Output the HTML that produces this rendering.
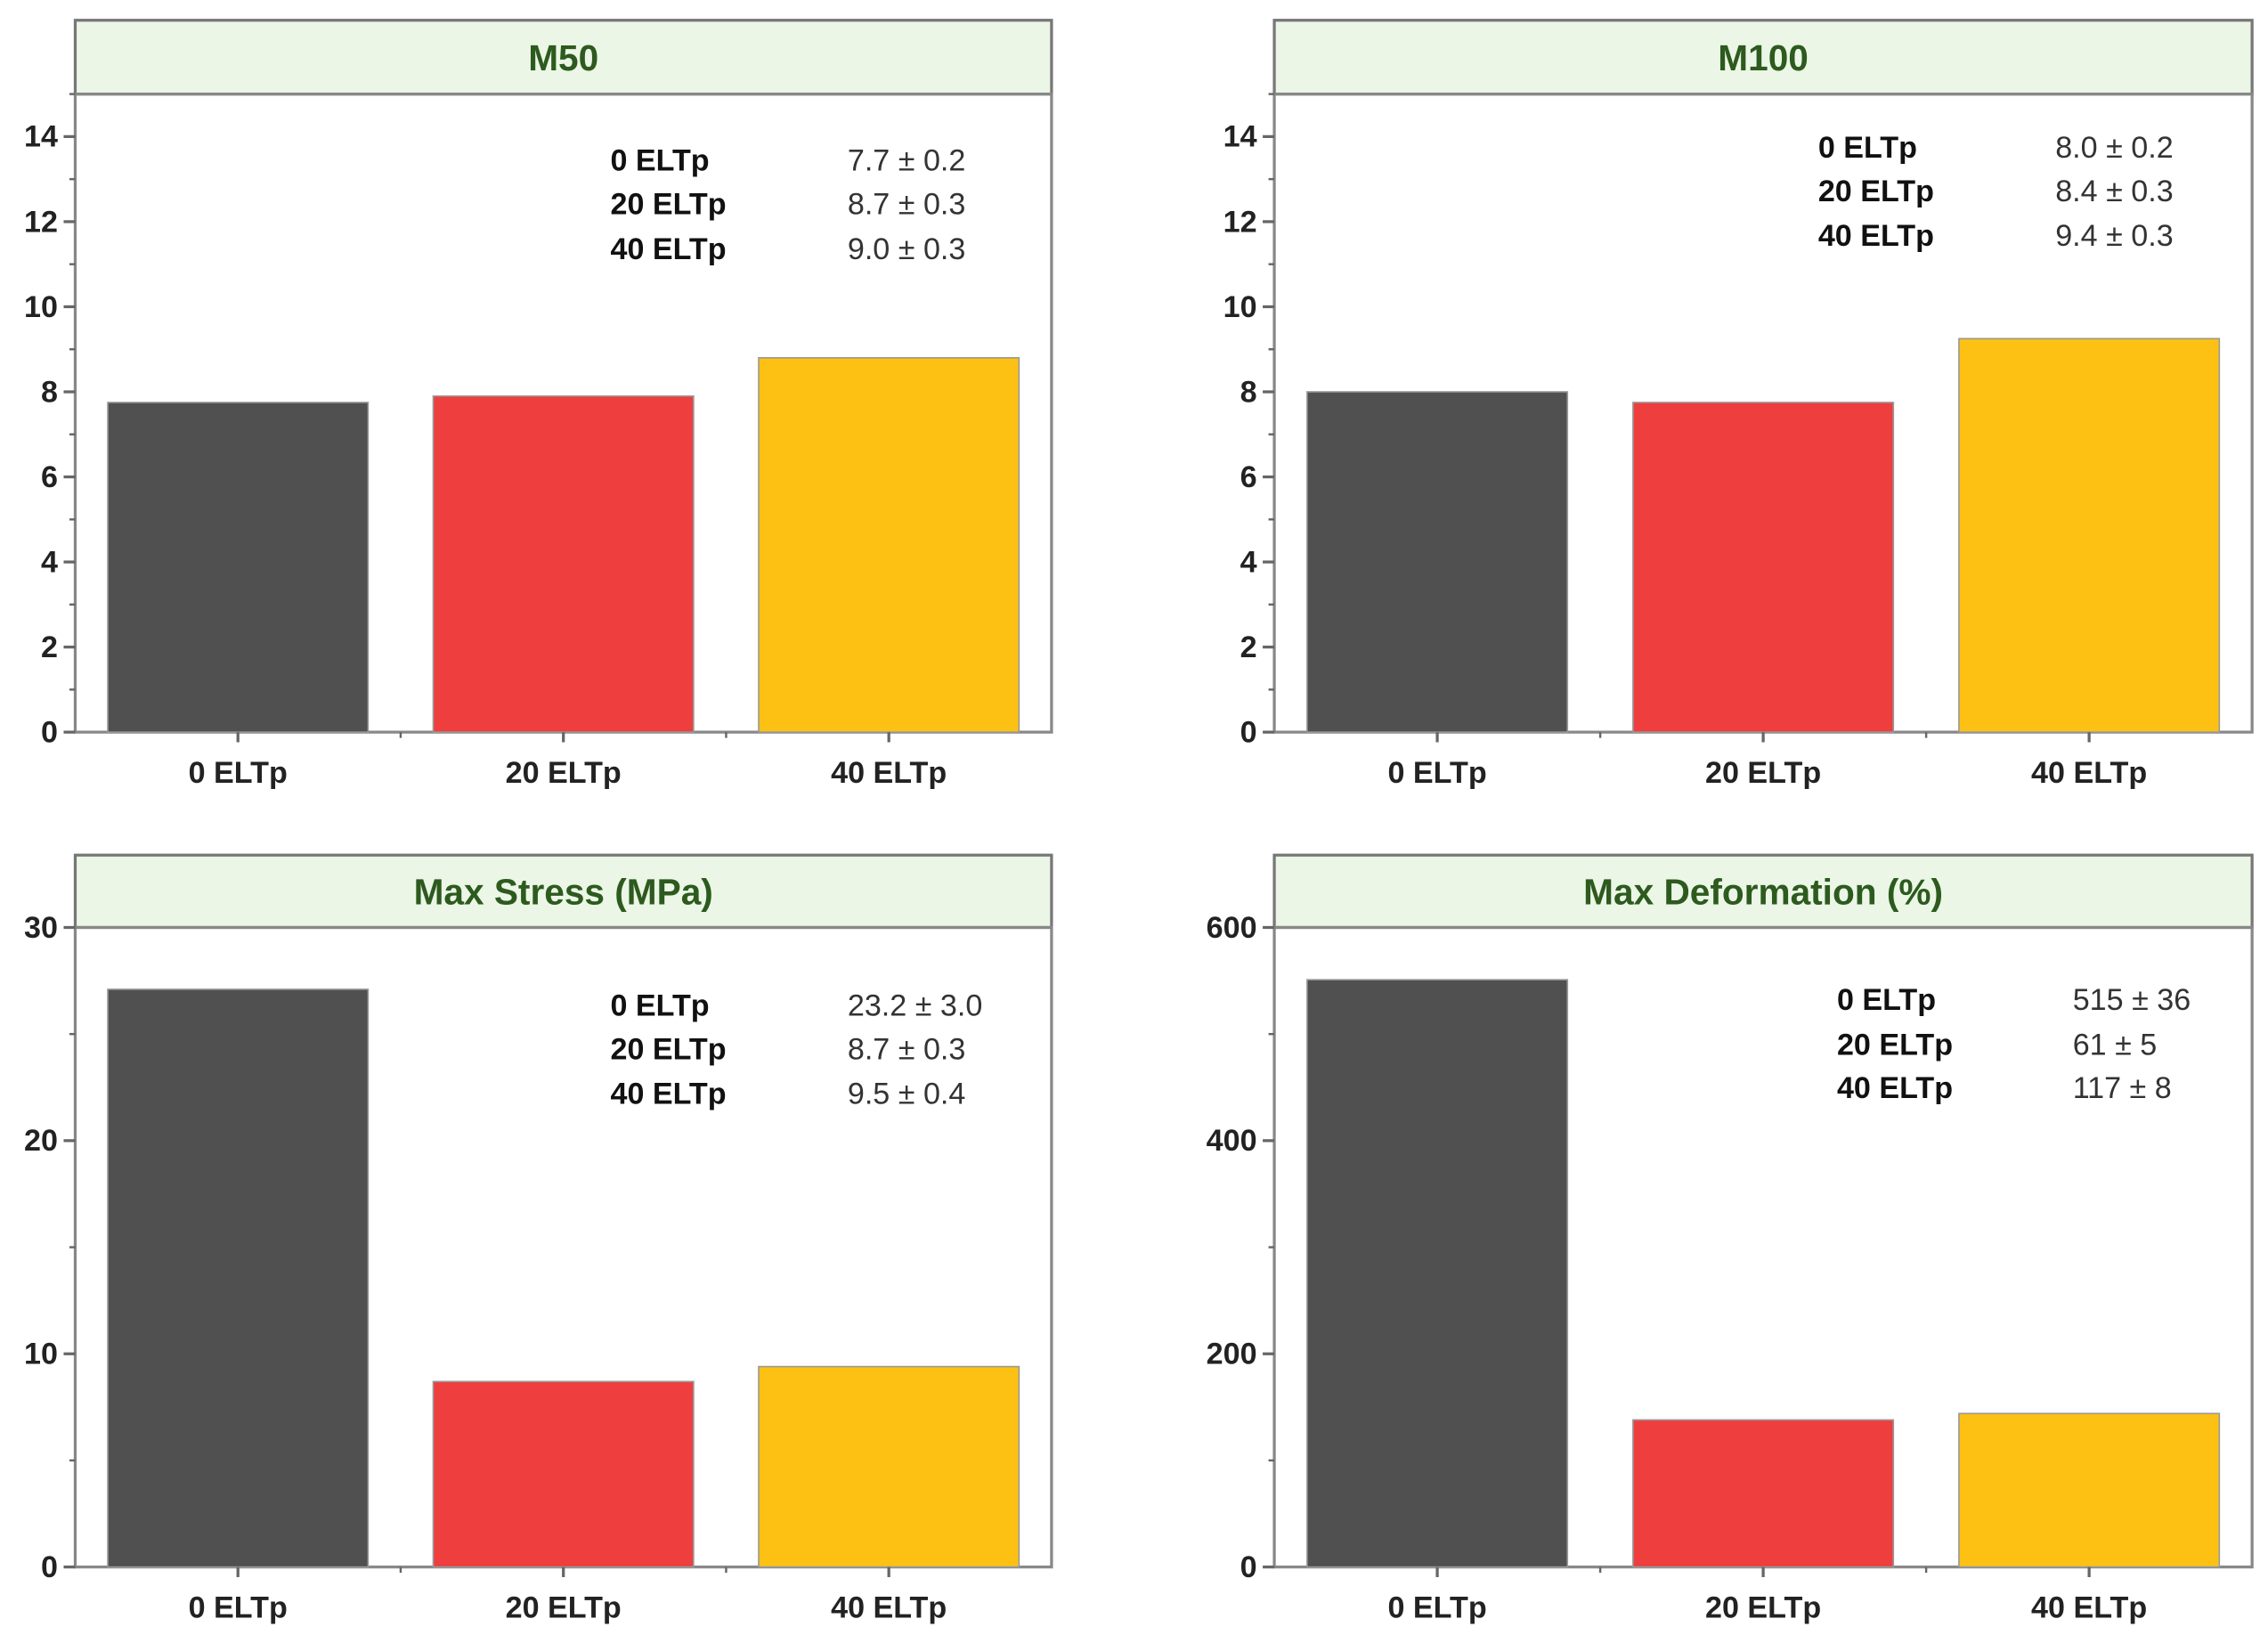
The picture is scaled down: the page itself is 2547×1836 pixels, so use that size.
<!DOCTYPE html>
<html><head><meta charset="utf-8"><style>
html,body{margin:0;padding:0;background:#fff;}
svg{display:block;font-family:"Liberation Sans",Arial,sans-serif;}
</style></head><body>
<svg id="fig" width="2547" height="1836" viewBox="0 0 1568 1130" preserveAspectRatio="none" xmlns="http://www.w3.org/2000/svg"></svg>
<script>
const categories = ["0 ELTp", "20 ELTp", "40 ELTp"];
const barColors = ["#505050", "#ee3e3e", "#fcc113"];
const m50Values = [7.75, 7.9, 8.8];
const m100Values = [8.0, 7.75, 9.25];
const stressValues = [27.1, 8.7, 9.4];
const deformValues = [551, 138, 144];
const m50Notes = ["7.7 \u00b1 0.2", "8.7 \u00b1 0.3", "9.0 \u00b1 0.3"];
const m100Notes = ["8.0 \u00b1 0.2", "8.4 \u00b1 0.3", "9.4 \u00b1 0.3"];
const stressNotes = ["23.2 \u00b1 3.0", "8.7 \u00b1 0.3", "9.5 \u00b1 0.4"];
const deformNotes = ["515 \u00b1 36", "61 \u00b1 5", "117 \u00b1 8"];
const smallTicks = [0, 2, 4, 6, 8, 10, 12, 14];
const stressTicks = [0, 10, 20, 30];
const deformTicks = [0, 200, 400, 600];

const NS = "http://www.w3.org/2000/svg";
const svg = document.getElementById("fig");
function mk(tag, attrs, parent) {
  const e = document.createElementNS(NS, tag);
  for (const k in attrs) e.setAttribute(k, attrs[k]);
  (parent || svg).appendChild(e);
  return e;
}
const panels = [
  {name:"m50", title:"M50", vals:m50Values, notes:m50Notes, ticks:smallTicks, ymax:15, minor:1, x0:52, x1:727, top:14, hb:65, bot:506, nx:422, vx:586, ny:[110,140,171]},
  {name:"m100", title:"M100", vals:m100Values, notes:m100Notes, ticks:smallTicks, ymax:15, minor:1, x0:881, x1:1557, top:14, hb:65, bot:506, nx:1257, vx:1421, ny:[101,131,162]},
  {name:"max-stress", title:"Max Stress (MPa)", vals:stressValues, notes:stressNotes, ticks:stressTicks, ymax:30, minor:5, x0:52, x1:727, top:591, hb:641, bot:1083, nx:422, vx:586, ny:[694,724,755]},
  {name:"max-deformation", title:"Max Deformation (%)", vals:deformValues, notes:deformNotes, ticks:deformTicks, ymax:600, minor:100, x0:881, x1:1557, top:591, hb:641, bot:1083, nx:1270, vx:1433, ny:[690,721,751]}
];
panels.forEach(p => {
  const g = mk("g", {});
  
  
  const y = v => p.bot - v / p.ymax * (p.bot - p.hb);
  const w = p.x1 - p.x0;
  const band = w / 3;
  const xc = i => p.x0 + band * (i + 0.5);
  const hdr = mk("rect", {x:p.x0, y:p.top, width:w, height:p.hb - p.top, fill:"#ebf6e6", stroke:"#777", "stroke-width":2}, g);
  
  
  const t = mk("text", {x:p.x0 + w/2, y:(p.top + p.hb)/2 + 9, "text-anchor":"middle", "font-size":25, "font-weight":"bold", fill:"#2d5a1e"}, g);
  t.textContent = p.title;
  
  
  const fr = mk("rect", {x:p.x0, y:p.hb, width:w, height:p.bot - p.hb, fill:"none", stroke:"#888", "stroke-width":2}, g);
  
  
  p.vals.forEach((v, i) => {
    const bw = 180;
    const b = mk("rect", {x:xc(i) - bw/2, y:y(v), width:bw, height:p.bot - y(v), fill:barColors[i], stroke:"#999", "stroke-width":1}, g);
    
    
    const lx = mk("text", {x:xc(i), y:p.bot + 35, "text-anchor":"middle", "font-size":21, "font-weight":"bold", fill:"#222"}, g);
    lx.textContent = categories[i];
    
    
    mk("line", {x1:xc(i), x2:xc(i), y1:p.bot, y2:p.bot + 7, stroke:"#666", "stroke-width":2}, g);
    if (i < 2) mk("line", {x1:p.x0 + band*(i+1), x2:p.x0 + band*(i+1), y1:p.bot, y2:p.bot + 4, stroke:"#666", "stroke-width":1.5}, g);
  });
  for (let v = 0; v <= p.ymax + 1e-9; v += p.minor) {
    mk("line", {x1:p.x0 - 4, x2:p.x0, y1:y(v), y2:y(v), stroke:"#666", "stroke-width":1.5}, g);
  }
  p.ticks.forEach(v => {
    mk("line", {x1:p.x0 - 8, x2:p.x0, y1:y(v), y2:y(v), stroke:"#666", "stroke-width":2}, g);
    const tl = mk("text", {x:p.x0 - 12, y:y(v) + 7, "text-anchor":"end", "font-size":21, "font-weight":"bold", fill:"#222"}, g);
    tl.textContent = v;
    
    
  });
  p.notes.forEach((n, i) => {
    const a = mk("text", {x:p.nx, y:p.ny[i] + 8, "font-size":21, "font-weight":"bold", fill:"#111"}, g);
    a.textContent = categories[i];
    
    
    const b = mk("text", {x:p.vx, y:p.ny[i] + 8, "font-size":21, fill:"#333"}, g);
    b.textContent = n;
    
    
  });
});
</script>
</body></html>
